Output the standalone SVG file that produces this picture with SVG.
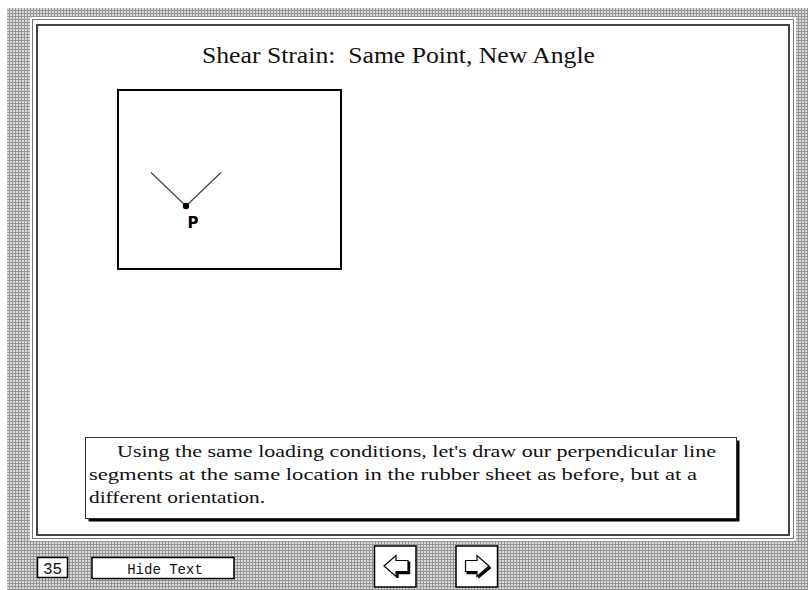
<svg xmlns="http://www.w3.org/2000/svg" width="808" height="590" viewBox="0 0 808 590">
<defs>
<pattern id="dither" x="7" y="8" width="3" height="3" patternUnits="userSpaceOnUse">
<rect width="3" height="3" fill="#dadada"/>
<rect x="2" width="1" height="3" fill="#959595"/>
<rect y="2" width="3" height="1" fill="#959595"/>
</pattern>
<style>
.serif{font-family:"Liberation Serif","DejaVu Serif",serif;fill:#111}
.mono{font-family:"Liberation Mono","DejaVu Sans Mono",monospace;fill:#111}
.btn{fill:#fff;stroke:#000;stroke-width:1.5}
.arrow{fill:#fff;stroke:#000;stroke-width:1.2;stroke-linejoin:miter}
.shadow{fill:none;stroke:#000;stroke-width:2.5}
.seg{stroke:#444;stroke-width:1.2}
</style>
</defs>
<rect width="808" height="590" fill="#fff"/>
<rect x="7" y="8" width="801" height="582" fill="url(#dither)"/>
<g id="panel">
<rect x="30" y="17" width="766" height="524" fill="#fff"/>
<rect x="32.5" y="19.5" width="761" height="519" fill="none" stroke="#777" stroke-width="1"/>
<rect x="37" y="25" width="752" height="510" fill="none" stroke="#444" stroke-width="2"/>
</g>
<g id="title">
<text class="serif" x="202" y="63" font-size="23" textLength="393" lengthAdjust="spacingAndGlyphs" style="white-space:pre" xml:space="preserve">Shear Strain:  Same Point, New Angle</text>
</g>
<g id="figure">
<rect x="118" y="90" width="223" height="179" fill="#fff" stroke="#000" stroke-width="2"/>
<g id="connectors">
<line class="seg" x1="151" y1="172.5" x2="186" y2="206"/>
<line class="seg" x1="221" y1="172.5" x2="186" y2="206"/>
</g>
<g id="pointP">
<circle cx="186" cy="206" r="3.2" fill="#000"/>
<text x="193" y="228" font-family="'DejaVu Sans','Liberation Sans',sans-serif" font-weight="bold" font-size="15" text-anchor="middle" fill="#000">P</text>
</g>
</g>
<g id="textbox">
<rect x="88.5" y="440.5" width="651" height="81" fill="#000"/>
<rect x="85.5" y="437.5" width="651" height="81" fill="#fff" stroke="#333" stroke-width="1"/>
<text class="serif" x="117" y="457" font-size="17" textLength="599" lengthAdjust="spacingAndGlyphs">Using the same loading conditions, let's draw our perpendicular line</text>
<text class="serif" x="89" y="480" font-size="17" textLength="608" lengthAdjust="spacingAndGlyphs">segments at the same location in the rubber sheet as before, but at a</text>
<text class="serif" x="89" y="503" font-size="17" textLength="176" lengthAdjust="spacingAndGlyphs">different orientation.</text>
</g>
<g id="pagenum">
<rect class="btn" x="37.5" y="557.5" width="30" height="20"/>
<text class="mono" x="52.5" y="573.5" font-size="16" text-anchor="middle">35</text>
</g>
<g id="hidetext">
<rect class="btn" x="92" y="557.5" width="142" height="21"/>
<text class="mono" x="165" y="574" font-size="14" text-anchor="middle">Hide Text</text>
</g>
<g id="prev">
<rect class="btn" x="374.5" y="546" width="41.5" height="41"/>
<path class="shadow" d="M397.5 578 L397.5 573 L409 573 L409 561.5"/>
<path class="arrow" d="M384 566 L396 555.5 L396 560.5 L408 560.5 L408 571.5 L396 571.5 L396 576.5 Z"/>
</g>
<g id="next">
<rect class="btn" x="456" y="546" width="41.5" height="41"/>
<path class="shadow" d="M478 577.5 L490.5 567"/>
<path class="shadow" d="M466.5 573 L477 573"/>
<path class="arrow" d="M489 566 L477 555.5 L477 560.5 L465.5 560.5 L465.5 571.5 L477 571.5 L477 576.5 Z"/>
</g>
</svg>
